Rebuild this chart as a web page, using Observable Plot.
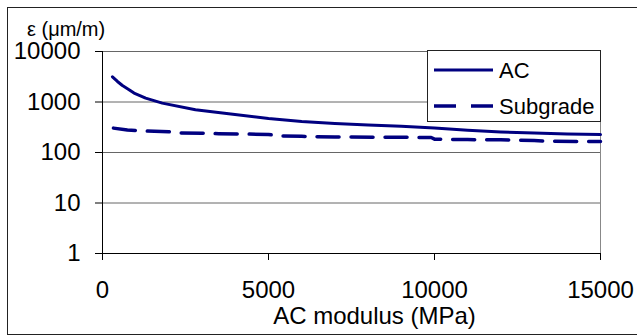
<!DOCTYPE html>
<html>
<head>
<meta charset="utf-8">
<script src="https://cdn.jsdelivr.net/npm/d3@7"></script>
<script src="https://cdn.jsdelivr.net/npm/@observablehq/plot@0.6"></script>
<style>
  body { margin: 0; background: #fff; }
  #chart { position: relative; width: 637px; height: 336px; overflow: hidden; }
  #frame { position: absolute; left: 7px; top: 7px; width: 650px; height: 328px;
           border: 1.5px solid #222; box-sizing: border-box; pointer-events: none; }
</style>
</head>
<body>
<div id="chart"><div id="frame"></div></div>
<script>
// Strain at the bottom of the AC layer vs. AC modulus
const modulusAC = [300, 450, 600, 800, 950, 1300, 1800, 2800, 3800, 5000, 6000, 7000, 8000, 9000, 10000, 11000, 12000, 13000, 14000, 15000];
const strainAC  = [3150, 2550, 2120, 1750, 1500, 1190, 950, 700, 585, 470, 410, 375, 350, 330, 305, 275, 255, 242, 232, 226];

// Strain on top of the subgrade vs. AC modulus
const modulusSub = [330, 750, 1300, 2000, 2300, 3000, 3500, 4300, 5000, 5300, 6000, 7000, 8500, 9900, 10000, 11000, 12000, 13000, 13500, 15000];
const strainSub  = [304, 278, 266, 258, 243, 240, 236, 232, 228, 212, 209, 203, 201, 198, 184, 180, 178, 172, 167, 165];

const xTicks = [0, 5000, 10000, 15000];
const yTicks = [1, 10, 100, 1000, 10000];
const seriesNames = ["AC", "Subgrade"];
const yTitle = "ε (μm/m)";
const xTitle = "AC modulus (MPa)";

const acRows = modulusAC.map((m, i) => ({modulus: m, strain: strainAC[i]}));
const subRows = modulusSub.map((m, i) => ({modulus: m, strain: strainSub[i]}));

const navy = "#000080";
const font = "'Liberation Sans', Arial, sans-serif";

const chart = Plot.plot({
  width: 637,
  height: 336,
  marginLeft: 102,
  marginRight: 37,
  marginTop: 51,
  marginBottom: 83,
  style: {fontFamily: font, fontSize: "24px", color: "#000", background: "transparent", overflow: "visible"},
  x: {domain: [0, 15000], ticks: xTicks, tickSize: 7, tickPadding: 20, tickFormat: d3.format("d"), label: null},
  y: {type: "log", domain: [1, 10000], ticks: yTicks, tickSize: 7, tickPadding: 15, tickFormat: d3.format("d"), label: null},
  marks: [
    Plot.ruleY(yTicks.slice(1), {stroke: "#666", strokeWidth: 1}),
    Plot.ruleX([15000], {stroke: "#888", strokeWidth: 1}),
    Plot.ruleX([0], {stroke: "#000", strokeWidth: 1}),
    Plot.ruleY([1], {stroke: "#000", strokeWidth: 1}),
    Plot.line(acRows, {x: "modulus", y: "strain", stroke: navy, strokeWidth: 3}),
    Plot.line(subRows, {x: "modulus", y: "strain", stroke: navy, strokeWidth: 3.5, strokeDasharray: "22,12"}),
    Plot.text([xTitle], {frameAnchor: "bottom", textAnchor: "middle", lineAnchor: "middle",
                         dx: 23, dy: 63, fontSize: 24, fill: "#000"})
  ]
});

document.getElementById("chart").prepend(chart);

const svg = d3.select(chart);

// Y-axis title above the tick labels
svg.append("text")
  .attr("x", 27).attr("y", 29).attr("dy", "0.35em")
  .attr("text-anchor", "start")
  .attr("font-family", font).attr("font-size", 20)
  .attr("fill", "#000").text(yTitle);

// Legend box in the upper right of the plot area
const lg = svg.append("g")
  .attr("font-family", font)
  .attr("font-size", 22)
  .attr("text-anchor", "start");
lg.append("rect")
  .attr("x", 427.5).attr("y", 50.5).attr("width", 173).attr("height", 71)
  .attr("fill", "#fff").attr("stroke", "#222").attr("stroke-width", 1);
const rowsY = [70, 106];
seriesNames.forEach((name, i) => {
  lg.append("line")
    .attr("x1", 434).attr("x2", 493).attr("y1", rowsY[i]).attr("y2", rowsY[i])
    .attr("stroke", navy).attr("stroke-width", i === 0 ? 3 : 3.5)
    .attr("stroke-dasharray", i === 0 ? null : "22,15");
  lg.append("text")
    .attr("x", 499).attr("y", rowsY[i]).attr("dy", "0.35em")
    .attr("text-anchor", "start")
    .attr("fill", "#000").text(name);
});
</script>
</body>
</html>
